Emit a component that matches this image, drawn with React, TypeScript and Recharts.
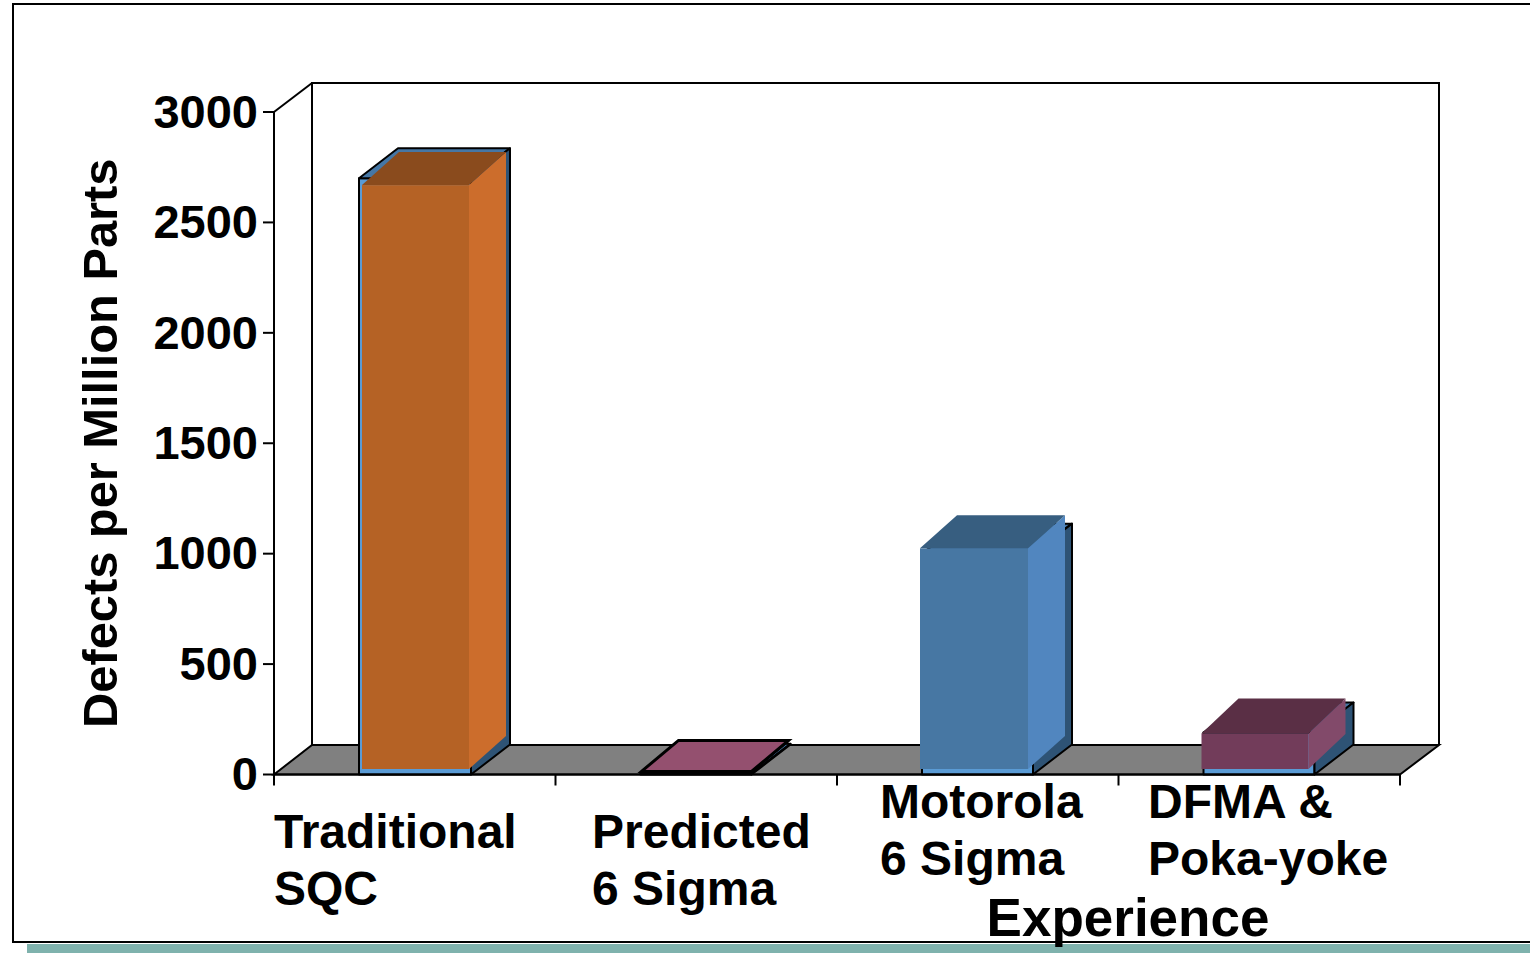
import React from 'react';
import { BarChart, Bar, XAxis, YAxis } from 'recharts';

const categories: string[][] = [
  ['Traditional', 'SQC'],
  ['Predicted', '6 Sigma'],
  ['Motorola', '6 Sigma'],
  ['DFMA &', 'Poka-yoke'],
];
const defects: number[] = [2700, 3.4, 1000, 190];
const faceValues: number[] = [2669, 14, 1024, 186];
const yTicks: number[] = [0, 500, 1000, 1500, 2000, 2500, 3000];

const data = categories.map((lines, i) => ({
  name: lines.join(' '),
  defects: defects[i],
  face: faceValues[i],
}));

const WIDTH = 1530;
const HEIGHT = 953;
const LEFT = 274;
const RIGHT = 1400;
const TOP = 112;
const BOTTOM = 774.5;
const FLOOR_BACK = 745;
const WALL_TOP = 83;
const DEPTH_X = 38;
const DEPTH_Y = 30;
const BAND = (RIGHT - LEFT) / categories.length;
const FONT = '"Liberation Sans", Arial, sans-serif';

// per-category placement of the two-line tick labels
const labelLeft = [274, 592, 880, 1148];
const labelBaseline = [73, 73, 43, 43];
const LINE_HEIGHT = 57;

// face colours of the front boxes: front, side, top
const faceColors = [
  ['#b56225', '#cc6d2c', '#8a4b1d'],
  ['#94506f', '#94506f', '#94506f'],
  ['#4777a3', '#5186bf', '#375e80'],
  ['#723c5a', '#824a6a', '#5a2f45'],
];
const faceShift = [3, 1, -2, -2];
const faceWidth = [107, 110, 108, 107];
const faceDepthY = [33, 31, 33, 35];
const boxExtra = [1, 0, 0, 0];

const pts = (p: number[][]) => p.map(q => q.join(',')).join(' ');

// floor and back wall of the 3D plot box
const Backdrop = () => (
  <g>
    <polygon
      points={pts([
        [LEFT, BOTTOM],
        [LEFT + DEPTH_X, FLOOR_BACK],
        [RIGHT + DEPTH_X + 1, FLOOR_BACK],
        [RIGHT, BOTTOM],
      ])}
      fill="#808080"
      stroke="#000"
      strokeWidth={2}
    />
    <polyline
      points={pts([
        [LEFT + DEPTH_X, FLOOR_BACK],
        [LEFT + DEPTH_X, WALL_TOP],
        [RIGHT + DEPTH_X + 1, WALL_TOP],
        [RIGHT + DEPTH_X + 1, FLOOR_BACK],
      ])}
      fill="none"
      stroke="#000"
      strokeWidth={2}
    />
    <line x1={LEFT} y1={TOP} x2={LEFT + DEPTH_X} y2={WALL_TOP} stroke="#000" strokeWidth={2} />
  </g>
);

// series column: blue box with black outline
const BlueBox = (props: any) => {
  const { x, y, height, index } = props;
  const width = props.width + boxExtra[index];
  const r = x + width;
  const b = y + height;
  const dx = DEPTH_X + 1;
  return (
    <g stroke="#000" strokeWidth={2} strokeLinejoin="round">
      <rect x={x} y={y} width={width} height={height} fill="#5a9bd5" />
      <polygon
        points={pts([[x, y], [x + dx, y - DEPTH_Y], [r + dx, y - DEPTH_Y], [r, y]])}
        fill="#4677a5"
      />
      <polygon
        points={pts([[r, y], [r + dx, y - DEPTH_Y], [r + dx, b - DEPTH_Y], [r, b]])}
        fill="#2e5375"
      />
    </g>
  );
};

// coloured box laid over each column
const FaceBox = (props: any) => {
  const { x, y, height, index } = props;
  const [front, side, top] = faceColors[index];
  const left = x + faceShift[index];
  const w = faceWidth[index];
  const dx = 37;
  const dy = faceDepthY[index];
  const r = left + w;
  const b = Math.max(y, y + height - 5.5);
  const outlined = index === 1;
  return (
    <g stroke={outlined ? '#000' : 'none'} strokeWidth={outlined ? 3 : 0}>
      <rect x={left} y={y} width={w} height={b - y} fill={front} />
      <polygon points={pts([[r, y], [r + dx, y - dy], [r + dx, b - dy], [r, b]])} fill={side} />
      <polygon points={pts([[left, y], [left + dx, y - dy], [r + dx, y - dy], [r, y]])} fill={top} />
    </g>
  );
};

const CategoryTick = (props: any) => {
  const { x, index } = props;
  const edge = x - BAND / 2;
  const last = index === categories.length - 1;
  const baseline = BOTTOM + labelBaseline[index];
  return (
    <g>
      <line x1={edge} y1={BOTTOM} x2={edge} y2={BOTTOM + 11} stroke="#000" strokeWidth={2} />
      {last && <line x1={RIGHT} y1={BOTTOM} x2={RIGHT} y2={BOTTOM + 11} stroke="#000" strokeWidth={2} />}
      <text x={labelLeft[index]} y={baseline} fontFamily={FONT} fontWeight="bold" fontSize={48} fill="#000">
        {categories[index][0]}
      </text>
      <text x={labelLeft[index]} y={baseline + LINE_HEIGHT} fontFamily={FONT} fontWeight="bold" fontSize={48} fill="#000">
        {categories[index][1]}
      </text>
    </g>
  );
};

export default function App() {
  return (
    <div style={{ position: 'absolute', left: 0, top: 0, width: WIDTH, height: HEIGHT, overflow: 'hidden', background: '#fff' }}>
      <div style={{ position: 'absolute', left: 12, top: 3, width: WIDTH, height: 935.5, border: '2.5px solid #000', boxSizing: 'content-box' }} />
      <div style={{ position: 'absolute', left: 27, top: 943.5, width: WIDTH, height: 10, background: '#7fb2ad' }} />
      <div style={{ position: 'absolute', left: 0, top: 0 }}>
        <BarChart
          width={WIDTH}
          height={HEIGHT}
          data={data}
          margin={{ top: TOP, right: WIDTH - RIGHT, bottom: HEIGHT - BOTTOM - 60, left: LEFT - 60 }}
          barSize={111}
          barGap={-111}
        >
          <Backdrop />
          <XAxis
            dataKey="name"
            height={60}
            interval={0}
            tickLine={false}
            tick={<CategoryTick />}
            axisLine={{ stroke: '#000', strokeWidth: 2 }}
            label={{
              value: 'Experience',
              position: 'insideBottom',
              offset: -101,
              dx: 291,
              style: { fontFamily: FONT, fontWeight: 'bold', fontSize: 53, fill: '#000' },
            }}
          />
          <YAxis
            width={60}
            domain={[0, 3000]}
            ticks={yTicks}
            interval={0}
            tickSize={11}
            tickMargin={5}
            axisLine={{ stroke: '#000', strokeWidth: 2 }}
            tickLine={{ stroke: '#000', strokeWidth: 2 }}
            tick={{ fontFamily: FONT, fontWeight: 'bold', fontSize: 47, fill: '#000', dy: -1 }}
            label={{
              value: 'Defects per Million Parts',
              angle: -90,
              position: 'insideLeft',
              offset: -114,
              style: { fontFamily: FONT, fontWeight: 'bold', fontSize: 48.8, fill: '#000', textAnchor: 'middle' },
            }}
          />
          <Bar dataKey="defects" isAnimationActive={false} shape={<BlueBox />} />
          <Bar dataKey="face" isAnimationActive={false} shape={<FaceBox />} />
        </BarChart>
      </div>
    </div>
  );
}
